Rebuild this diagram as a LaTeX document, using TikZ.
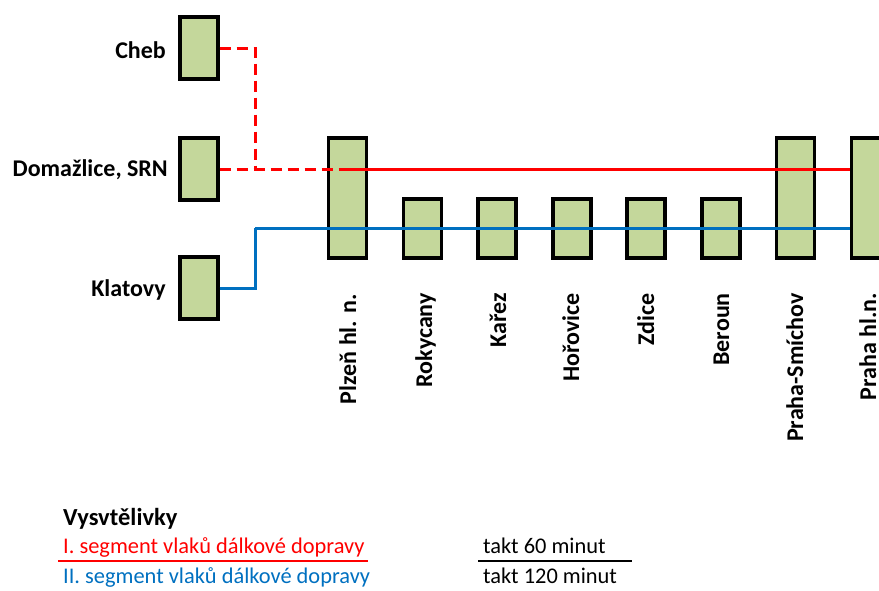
\documentclass[tikz,border=0pt]{standalone}
\usepackage{fontspec}
\setmainfont{Carlito}
\definecolor{boxgreen}{RGB}{196,215,155}
\definecolor{segred}{RGB}{255,0,0}
\definecolor{segblue}{RGB}{0,112,192}
\tikzset{
  stbox/.style={draw=black,fill=boxgreen,line width=3.2pt,inner sep=0pt,minimum width=38pt},
  tallbox/.style={stbox,minimum height=120pt},
  shortbox/.style={stbox,minimum height=59pt},
  sidebox/.style={stbox,minimum height=62pt},
  sidelabel/.style={anchor=east,font=\bfseries\fontsize{24}{28}\selectfont,inner sep=0pt},
  stlabel/.style={anchor=east,rotate=90,font=\bfseries\fontsize{24}{28}\selectfont,inner sep=0pt,text height=17pt,text depth=5pt},
  redline/.style={draw=segred,line width=3pt},
  reddash/.style={redline,dash pattern=on 11pt off 6pt},
  blueline/.style={draw=segblue,line width=3pt},
  legtext/.style={anchor=base west,font=\fontsize{22.4}{26}\selectfont,inner sep=0pt},
}
\begin{document}
\begin{tikzpicture}[x=1pt,y=-1pt]
\useasboundingbox (0,0) rectangle (879,590);
% side stations
\node[sidebox] (cheb) at (199,48) {};
\node[sidebox] (doma) at (199,169) {};
\node[sidebox] (klat) at (199,288) {};
\node[sidelabel] (lcheb) at (166,50) {Cheb};
\node[sidelabel] (ldoma) at (168,170) {Domažlice, SRN};
\node[sidelabel] (lklat) at (166,290) {Klatovy};
% main line stations
\node[tallbox] (plzen) at (347.5,198) {};
\node[shortbox] (rok) at (422.5,228.5) {};
\node[shortbox] (karez) at (497,228.5) {};
\node[shortbox] (hor) at (572,228.5) {};
\node[shortbox] (zdice) at (646,228.5) {};
\node[shortbox] (beroun) at (721,228.5) {};
\node[tallbox] (smich) at (795.5,198) {};
\node[tallbox] (praha) at (870.5,198) {};
\node[stlabel] (lplzen) at (350,294) {Plzeň hl. n.};
\node[stlabel] (lrok) at (426,293) {Rokycany};
\node[stlabel] (lkarez) at (500,293) {Kařez};
\node[stlabel] (lhor) at (573,293) {Hořovice};
\node[stlabel] (lzdice) at (648,293) {Zdice};
\node[stlabel] (lberoun) at (723,293) {Beroun};
\node[stlabel] (lsmich) at (797,293) {Praha-Smíchov};
\node[stlabel] (lpraha) at (870,293) {Praha hl.n.};
% connectors
\coordinate (rj) at (255,169);
\coordinate (bj) at (255,228);
\draw[reddash] (cheb.east) -| (rj);
\draw[reddash] (doma.east) -- (plzen.center |- doma.east);
\draw[redline] (plzen.center |- doma.east) -- (praha.west |- doma.east);
\draw[blueline] (klat.east) -| (bj);
\draw[blueline] (bj) -- (praha.west |- bj);
% legend
\node[legtext,font=\bfseries\fontsize{24.5}{28}\selectfont] (legtitle) at (63,525) {Vysvtělivky};
\node[legtext,text=segred] (leg1) at (63,553) {I. segment vlaků dálkové dopravy};
\node[legtext,text=segblue] (leg2) at (63,583) {II. segment vlaků dálkové dopravy};
\node[legtext] (takt1) at (483,553) {takt 60 minut};
\node[legtext] (takt2) at (483,583) {takt 120 minut};
\coordinate (u1a) at (58,561);
\coordinate (u1b) at (368,561);
\coordinate (u2a) at (478,561);
\coordinate (u2b) at (632,561);
\draw[redline,line width=2.5pt] (u1a) -- (u1b);
\draw[black,line width=2.5pt] (u2a) -- (u2b);
\end{tikzpicture}
\end{document}
